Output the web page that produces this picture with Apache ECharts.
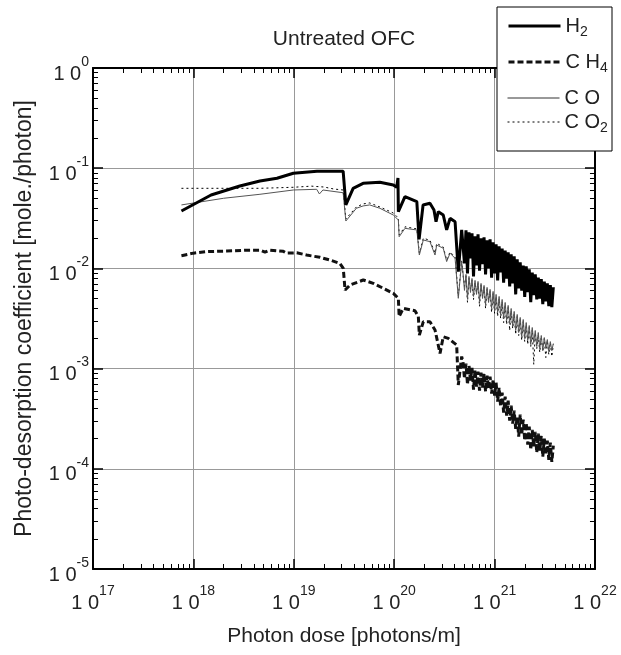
<!DOCTYPE html>
<html><head><meta charset="utf-8">
<script src="https://cdn.jsdelivr.net/npm/echarts@6/dist/echarts.min.js"></script>
<style>html,body{margin:0;padding:0;background:#fff}#c{width:621px;height:655px}</style>
</head><body><div id="c"></div>
<script>
// ---------------- data ----------------
const titleText = 'Untreated OFC';
const xAxisName = 'Photon dose [photons/m]';
const yAxisName = 'Photo-desorption coefficient [mole./photon]';
const seriesNames = ['H2', 'CH4', 'CO', 'CO2'];
const legendLabels = { H2: 'H{sub|2}', CH4: 'C H{sub|4}', CO: 'C O', CO2: 'C O{sub|2}' };

// decade ticks (labels 10^n) and log minor ticks
const xMajorTicks = [1e17, 1e18, 1e19, 1e20, 1e21, 1e22];
const yMajorTicks = [1e-5, 1e-4, 1e-3, 1e-2, 1e-1, 1];
const minorMultipliers = [2, 3, 4, 5, 6, 7, 8, 9];

// shared dose values of the noisy high-dose region
const tailDose = [4.842e20,5.012e20,5.188e20,5.370e20,5.559e20,5.754e20,5.957e20,6.166e20,6.383e20,6.607e20,6.839e20,7.079e20,7.328e20,7.586e20,7.852e20,8.128e20,8.414e20,8.710e20,9.016e20,9.333e20,9.661e20,1.000e21,1.035e21,1.072e21,1.109e21,1.148e21,1.189e21,1.230e21,1.274e21,1.318e21,1.365e21,1.413e21,1.462e21,1.514e21,1.567e21,1.622e21,1.679e21,1.738e21,1.799e21,1.862e21,1.928e21,1.995e21,2.065e21,2.138e21,2.213e21,2.291e21,2.371e21,2.455e21,2.541e21,2.630e21,2.723e21,2.818e21,2.917e21,3.020e21,3.126e21,3.236e21,3.350e21,3.467e21,3.589e21,3.715e21,3.846e21];

const h2Dose = [7.6e17,1.5e18,2.9e18,4.6e18,6.8e18,9.9e18,1.7e19,3.1e19,3.3e19,3.9e19,4.9e19,7.2e19,9.8e19,1.06e20,1.09e20,1.10e20,1.28e20,1.68e20,1.77e20,1.94e20,2.27e20,2.49e20,2.61e20,2.75e20,3.08e20,3.33e20,3.60e20,4.04e20,4.35e20,4.70e20];
const h2Coef = [0.0374,0.0540,0.0664,0.0745,0.0793,0.0890,0.0931,0.0933,0.0430,0.0630,0.0707,0.0723,0.0680,0.0645,0.0798,0.0368,0.0520,0.0463,0.0195,0.0430,0.0447,0.0383,0.0292,0.0368,0.0341,0.0242,0.0316,0.0292,0.00927,0.0242];
const h2Tail = [0.0251,0.0112,0.0240,0.0089,0.0229,0.0126,0.0224,0.0083,0.0209,0.0107,0.0219,0.0095,0.0200,0.0110,0.0204,0.0087,0.0191,0.0100,0.0195,0.0081,0.0182,0.0089,0.0174,0.0076,0.0166,0.0091,0.0158,0.0072,0.0151,0.0079,0.0145,0.0066,0.0138,0.0071,0.0132,0.0055,0.0123,0.0063,0.0115,0.0060,0.0107,0.0052,0.0105,0.0058,0.0098,0.0046,0.0091,0.0054,0.0087,0.0049,0.0081,0.0050,0.0078,0.0044,0.0074,0.0047,0.0071,0.0042,0.0068,0.0041,0.0065];

const ch4Dose = [7.6e17,1.0e18,1.36e18,2.15e18,3.4e18,4.6e18,5.16e18,5.79e18,7.86e18,8.49e18,1.07e19,1.34e19,1.82e19,2.30e19,2.88e19,3.11e19,3.24e19,3.63e19,4.92e19,6.19e19,9.8e19,1.10e20,1.12e20,1.23e20,1.61e20,1.74e20,1.78e20,1.95e20,2.27e20,2.55e20,2.86e20,3.08e20,3.46e20,4.19e20,4.35e20,4.70e20];
const ch4Coef = [0.0134,0.0142,0.0147,0.0149,0.0152,0.0152,0.0145,0.0152,0.0148,0.0142,0.0143,0.0136,0.0129,0.0121,0.0112,0.0100,0.00608,0.00683,0.00766,0.00710,0.00564,0.00503,0.00330,0.00400,0.00378,0.00330,0.00216,0.00294,0.00294,0.00243,0.00142,0.00208,0.00200,0.00172,0.000686,0.00132];
const ch4Tail = [0.00117,0.000794,0.00112,0.000692,0.00107,0.000759,0.00102,0.000617,0.000977,0.000661,0.000933,0.000603,0.000912,0.000646,0.000891,0.000589,0.000851,0.000631,0.000832,0.000562,0.000776,0.000537,0.000724,0.000468,0.000646,0.000417,0.000575,0.000363,0.000525,0.000339,0.000479,0.000302,0.000427,0.000282,0.000380,0.000251,0.000331,0.000209,0.000347,0.000219,0.000309,0.000191,0.000288,0.000174,0.000263,0.000155,0.000245,0.000166,0.000234,0.000145,0.000224,0.000151,0.000214,0.000132,0.000200,0.000138,0.000191,0.000123,0.000182,0.000117,0.000170];

const coDose = [7.6e17,2.0e18,4.6e18,9.9e18,1.69e19,1.80e19,1.95e19,3.1e19,3.3e19,4.2e19,4.9e19,5.7e19,7.2e19,9.8e19,1.10e20,1.12e20,1.28e20,1.68e20,1.78e20,1.95e20,2.27e20,2.55e20,2.65e20,3.08e20,3.33e20,3.60e20,4.04e20,4.35e20,4.70e20];
const coCoef = [0.0430,0.0501,0.0549,0.0606,0.0616,0.0553,0.0606,0.0569,0.0297,0.0398,0.0420,0.0430,0.0398,0.0341,0.0304,0.0207,0.0251,0.0242,0.0136,0.0192,0.0185,0.0136,0.0171,0.0159,0.0117,0.0142,0.0126,0.00503,0.0116];
const coTail = [0.00912,0.00603,0.00871,0.00501,0.00832,0.00575,0.00794,0.00525,0.00759,0.00550,0.00741,0.00468,0.00708,0.00501,0.00676,0.00437,0.00646,0.00457,0.00617,0.00398,0.00589,0.00380,0.00550,0.00363,0.00525,0.00347,0.00490,0.00316,0.00457,0.00302,0.00427,0.00282,0.00398,0.00263,0.00372,0.00240,0.00347,0.00229,0.00324,0.00209,0.00309,0.00200,0.00288,0.00191,0.00269,0.00174,0.00257,0.00182,0.00240,0.00166,0.00229,0.00158,0.00214,0.00151,0.00204,0.00162,0.00195,0.00148,0.00186,0.00151,0.00178];

const co2Dose = [7.6e17,2.0e18,4.6e18,9.9e18,1.5e19,2.0e19,2.5e19,3.1e19,3.3e19,4.2e19,4.9e19,5.7e19,7.2e19,9.8e19,1.10e20,1.12e20,1.28e20,1.68e20,1.78e20,1.95e20,2.27e20,2.55e20,2.65e20,3.08e20,3.33e20,3.60e20,4.04e20,4.35e20,4.70e20];
const co2Coef = [0.0630,0.0630,0.0630,0.0645,0.0662,0.0649,0.0620,0.0606,0.0312,0.0410,0.0440,0.0450,0.0410,0.0357,0.0318,0.0216,0.0260,0.0248,0.0142,0.0200,0.0191,0.0142,0.0178,0.0163,0.0121,0.0146,0.0130,0.00528,0.0119];
const co2Tail = [0.00871,0.00661,0.00832,0.00457,0.00794,0.00617,0.00759,0.00490,0.00724,0.00575,0.00708,0.00417,0.00676,0.00525,0.00646,0.00398,0.00617,0.00479,0.00589,0.00363,0.00562,0.00355,0.00525,0.00331,0.00501,0.00316,0.00468,0.00288,0.00437,0.00275,0.00407,0.00240,0.00380,0.00251,0.00355,0.00219,0.00331,0.00214,0.00309,0.00191,0.00295,0.00186,0.00275,0.00174,0.00257,0.00166,0.00245,0.00110,0.00229,0.00158,0.00219,0.00145,0.00209,0.00148,0.00200,0.00129,0.00191,0.00138,0.00182,0.00132,0.00174];

const xMin = 1e17, xMax = 1e22;
const yMin = 1e-5, yMax = 1;

// ---------------- chart ----------------
const FONT = '"Liberation Sans", Arial, Helvetica, sans-serif';
const TXT = '#222';
const TICK = '#000';
function pairs(xs, ys) { return xs.map((x, i) => [x, ys[i]]); }
function expOf(v) { return Math.round(Math.log10(v)); }
function minorOf(majors) {
  const out = [];
  for (let i = 0; i < majors.length - 1; i++) minorMultipliers.forEach(m => out.push(m * majors[i]));
  return out;
}

function tickLabel(isX) {
  return {
    show: true, margin: isX ? 12 : 4, fontSize: 20, color: TXT, fontFamily: FONT,
    formatter: v => '{b|1 0}{sup|' + expOf(v) + '}',
    rich: {
      b: { fontSize: 20, color: TXT, fontFamily: FONT, padding: [12, 0, 0, 0] },
      sup: { fontSize: 14, color: TXT, fontFamily: FONT, padding: [0, 0, 12, 0] }
    }
  };
}

function logAxis(pos, isX, main) {
  const a = {
    type: 'log', logBase: 10, position: pos,
    min: isX ? xMin : yMin, max: isX ? xMax : yMax,
    axisLine: { show: true, onZero: false, lineStyle: { color: '#000', width: 2 } },
    axisTick: { show: false },
    minorTick: { show: false },
    splitLine: { show: main, lineStyle: { color: '#999', width: 1 } },
    minorSplitLine: { show: false },
    axisLabel: main ? tickLabel(isX) : { show: false }
  };
  if (main) {
    a.name = isX ? xAxisName : yAxisName;
    a.nameLocation = 'middle';
    a.nameGap = 57;
    a.nameTextStyle = { fontSize: isX ? 21 : 23, color: TXT, fontFamily: FONT };
  }
  return a;
}

function lineSeries(name, data, lineStyle, z) {
  return {
    name, type: 'line', data, symbol: 'none', showSymbol: false, z,
    itemStyle: { color: '#000' },
    lineStyle, animation: false, xAxisIndex: 0, yAxisIndex: 0
  };
}

// Tick marks on all four sides as short segments in data space.
const MAJOR_LEN = 0.1, MINOR_LEN = 0.05;
function tickSegments(values, isX, lenDec, width) {
  const f = Math.pow(10, lenDec);
  const style = { color: TICK, width, type: 'solid' };
  const segs = [];
  values.forEach(v => {
    if (isX) {
      segs.push([{ coord: [v, yMin], lineStyle: style }, { coord: [v, yMin * f] }]);
      segs.push([{ coord: [v, yMax], lineStyle: style }, { coord: [v, yMax / f] }]);
    } else {
      segs.push([{ coord: [xMin, v], lineStyle: style }, { coord: [xMin * f, v] }]);
      segs.push([{ coord: [xMax, v], lineStyle: style }, { coord: [xMax / f, v] }]);
    }
  });
  return segs;
}
const tickMarkData = [].concat(
  tickSegments(xMajorTicks, true, MAJOR_LEN, 1.5),
  tickSegments(minorOf(xMajorTicks), true, MINOR_LEN, 1),
  tickSegments(yMajorTicks, false, MAJOR_LEN, 1.5),
  tickSegments(minorOf(yMajorTicks), false, MINOR_LEN, 1)
);

const legendTops = { H2: 16, CH4: 52, CO: 88, CO2: 112 };
const legendLines = {
  H2: { color: '#000', width: 3, type: 'solid' },
  CH4: { color: '#111', width: 3, type: [6, 3] },
  CO: { color: '#333', width: 1, type: 'solid' },
  CO2: { color: '#000', width: 1, type: [2, 3] }
};

const option = {
  animation: false,
  backgroundColor: '#fff',
  textStyle: { fontFamily: FONT },
  title: {
    text: titleText, left: 339, top: 24, textAlign: 'center',
    textStyle: { fontSize: 21, fontWeight: 'normal', color: TXT, fontFamily: FONT }
  },
  grid: { left: 93, top: 68, right: 26, bottom: 86, containLabel: false },
  xAxis: [logAxis('bottom', true, true), logAxis('top', true, false)],
  yAxis: [logAxis('left', false, true), logAxis('right', false, false)],
  legend: seriesNames.map(n => ({
    data: [n], left: 507, top: legendTops[n], padding: 0, itemWidth: 52, itemHeight: 10,
    selectedMode: false, z: 10,
    itemStyle: { color: 'rgba(0,0,0,0)', borderColor: 'rgba(0,0,0,0)', borderWidth: 0 },
    lineStyle: legendLines[n],
    formatter: name => legendLabels[name],
    textStyle: {
      fontSize: 20, color: TXT, fontFamily: FONT,
      rich: { sub: { fontSize: 14, color: TXT, fontFamily: FONT, padding: [12, 0, 0, 0] } }
    }
  })),
  graphic: [{
    type: 'rect', z: 8, shape: { x: 497, y: 7, width: 115, height: 144 },
    style: { fill: '#fff', stroke: '#000', lineWidth: 1 }
  }],
  series: [
    {
      type: 'line', name: 'axis ticks', data: [[xMin, yMin]], symbol: 'none', showSymbol: false,
      z: 3, silent: true, animation: false, clip: false, lineStyle: { width: 0 },
      markLine: {
        z: 3, silent: true, symbol: ['none', 'none'], animation: false, precision: 20,
        label: { show: false }, emphasis: { disabled: true },
        lineStyle: { color: TICK, width: 1, type: 'solid' },
        data: tickMarkData
      }
    },
    lineSeries('CO2', pairs(co2Dose.concat(tailDose), co2Coef.concat(co2Tail)), { color: '#000', width: 1, type: [2, 3] }, 2),
    lineSeries('CO', pairs(coDose.concat(tailDose), coCoef.concat(coTail)), { color: '#555', width: 1, type: 'solid' }, 3),
    lineSeries('CH4', pairs(ch4Dose.concat(tailDose), ch4Coef.concat(ch4Tail)), { color: '#111', width: 3, type: [6, 3] }, 4),
    lineSeries('H2', pairs(h2Dose.concat(tailDose), h2Coef.concat(h2Tail)), { color: '#000', width: 3, type: 'solid' }, 4)
  ]
};

const chart = echarts.init(document.getElementById('c'), null, { renderer: 'canvas' });
chart.setOption(option);
</script>
</body></html>
